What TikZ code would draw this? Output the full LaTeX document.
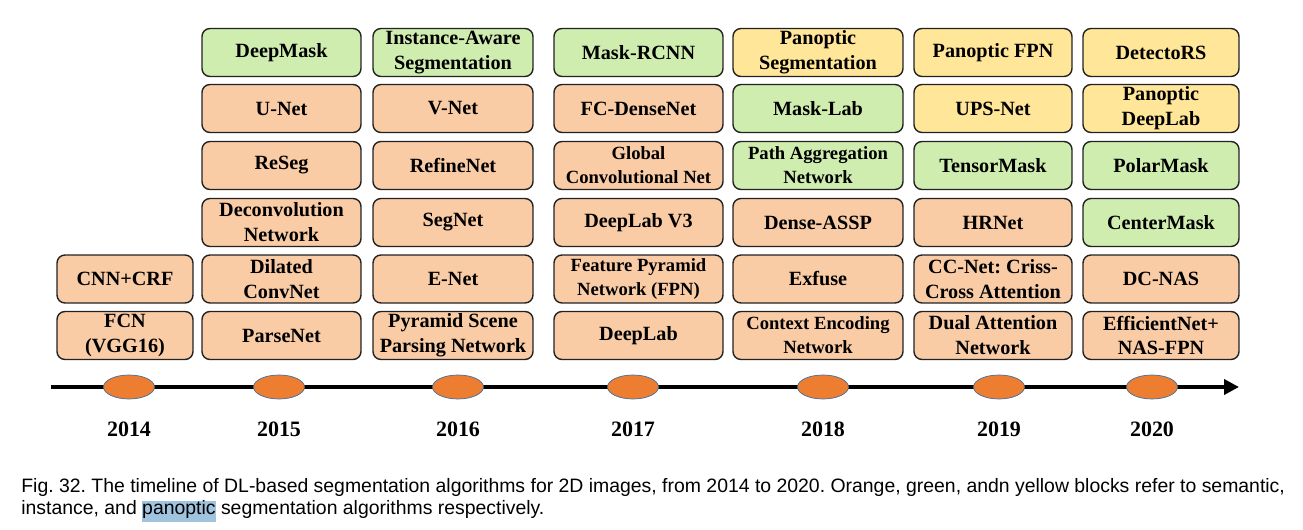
\documentclass[tikz,border=0pt]{standalone}
\usepackage{fontspec}
\setmainfont{Liberation Serif}
\newfontfamily\capfont{Liberation Sans}
\usepackage{xcolor}
\usepackage{tikz}
\usetikzlibrary{arrows.meta, positioning, shapes.geometric}
\definecolor{semFill}{RGB}{250, 204, 166}
\definecolor{instFill}{RGB}{208, 237, 176}
\definecolor{panoFill}{RGB}{255, 230, 153}
\definecolor{boxLine}{RGB}{34, 34, 34}
\definecolor{dotFill}{RGB}{237, 125, 49}
\definecolor{dotLine}{RGB}{65, 113, 156}
\definecolor{hlBlue}{RGB}{160, 196, 222}
\frenchspacing
\tikzset{
    algo_box/.style={
        draw=boxLine,
        line width=0.8pt,
        rounded corners=4.5pt,
        minimum height=0.96cm,
        inner sep=1pt,
        align=center,
        font=\bfseries\fontsize{11.5}{14.2}\selectfont
    },
    narrow_txt/.style={font=\bfseries\fontsize{10.6}{13.6}\selectfont},
    sem_box/.style={algo_box, fill=semFill},
    inst_box/.style={algo_box, fill=instFill},
    pano_box/.style={algo_box, fill=panoFill},
    timeline/.style={
        line width=2.8pt,
        -{Triangle[length=8.5pt, width=8.5pt]}
    },
    year_dot/.style={
        ellipse,
        draw=dotLine,
        line width=0.4pt,
        fill=dotFill,
        minimum width=1.02cm,
        minimum height=0.48cm,
        inner sep=0pt
    },
    year_label/.style={
        font=\bfseries\fontsize{12.5}{15}\selectfont
    },
    caption_line/.style={
        anchor=base west,
        inner sep=0pt,
        font=\capfont\fontsize{11.05}{12.5}\selectfont
    }
}
\newcommand{\hlword}[1]{{\setlength{\fboxsep}{0pt}\colorbox{hlBlue}{\rule[-4pt]{0pt}{10.8pt}#1}}}
\begin{document}
\begin{tikzpicture}[x=0.02cm, y=-0.02cm]
    \useasboundingbox (0,0) rectangle (1303,530);

    % 2014
    \begin{scope}[every node/.append style={minimum width=2.72cm}]
        \node[sem_box] (cnncrf) at (125,279) {CNN+CRF};
        \node[sem_box] (fcn) at (125,335.5) {FCN\\(VGG16)};
    \end{scope}

    % 2015
    \begin{scope}[every node/.append style={minimum width=3.18cm}]
        \node[inst_box] (deepmask) at (281.5,52.5) {DeepMask};
        \node[sem_box] (unet) at (281.5,108.5) {U-Net};
        \node[sem_box] (reseg) at (281.5,165.5) {ReSeg};
        \node[sem_box] (deconv) at (281.5,222.5) {Deconvolution\\Network};
        \node[sem_box] (dilated) at (281.5,279) {Dilated\\ConvNet};
        \node[sem_box] (parsenet) at (281.5,335.5) {ParseNet};
    \end{scope}

    % 2016
    \begin{scope}[every node/.append style={minimum width=3.2cm}]
        \node[inst_box] (instaware) at (453,52.5) {Instance-Aware\\Segmentation};
        \node[sem_box] (vnet) at (453,108.5) {V-Net};
        \node[sem_box] (refinenet) at (453,165.5) {RefineNet};
        \node[sem_box] (segnet) at (453,222.5) {SegNet};
        \node[sem_box] (enet) at (453,279) {E-Net};
        \node[sem_box] (pspnet) at (453,335.5) {Pyramid Scene\\Parsing Network};
    \end{scope}

    % 2017
    \begin{scope}[every node/.append style={minimum width=3.38cm}]
        \node[inst_box] (maskrcnn) at (638.5,52.5) {Mask-RCNN};
        \node[sem_box] (fcdense) at (638.5,108.5) {FC-DenseNet};
        \node[sem_box, narrow_txt] (gcn) at (638.5,165.5) {Global\\Convolutional Net};
        \node[sem_box] (deeplabv3) at (638.5,222.5) {DeepLab V3};
        \node[sem_box, narrow_txt] (fpn) at (638.5,279) {Feature Pyramid\\Network (FPN)};
        \node[sem_box] (deeplab) at (638.5,335.5) {DeepLab};
    \end{scope}

    % 2018
    \begin{scope}[every node/.append style={minimum width=3.4cm}]
        \node[pano_box] (panseg) at (818,52.5) {Panoptic\\Segmentation};
        \node[inst_box] (masklab) at (818,108.5) {Mask-Lab};
        \node[inst_box, narrow_txt] (panet) at (818,165.5) {Path Aggregation\\Network};
        \node[sem_box] (denseassp) at (818,222.5) {Dense-ASSP};
        \node[sem_box] (exfuse) at (818,279) {Exfuse};
        \node[sem_box, narrow_txt] (encnet) at (818,335.5) {Context Encoding\\Network};
    \end{scope}

    % 2019
    \begin{scope}[every node/.append style={minimum width=3.16cm}]
        \node[pano_box] (panfpn) at (993,52.5) {Panoptic FPN};
        \node[pano_box] (upsnet) at (993,108.5) {UPS-Net};
        \node[inst_box] (tensormask) at (993,165.5) {TensorMask};
        \node[sem_box] (hrnet) at (993,222.5) {HRNet};
        \node[sem_box] (ccnet) at (993,279) {CC-Net: Criss-\\Cross Attention};
        \node[sem_box] (danet) at (993,335.5) {Dual Attention\\Network};
    \end{scope}

    % 2020
    \begin{scope}[every node/.append style={minimum width=3.12cm}]
        \node[pano_box] (detectors) at (1161,52.5) {DetectoRS};
        \node[pano_box] (pandeeplab) at (1161,108.5) {Panoptic\\DeepLab};
        \node[inst_box] (polarmask) at (1161,165.5) {PolarMask};
        \node[inst_box] (centermask) at (1161,222.5) {CenterMask};
        \node[sem_box] (dcnas) at (1161,279) {DC-NAS};
        \node[sem_box] (effnas) at (1161,335.5) {EfficientNet+\\NAS-FPN};
    \end{scope}

    % time axis
    \coordinate (tl_start) at (51,387);
    \coordinate (tl_end) at (1239,387);
    \draw[timeline] (tl_start) -- (tl_end);
    \foreach \yr/\xx in {2014/129, 2015/279, 2016/458, 2017/633, 2018/823, 2019/999, 2020/1152} {
        \node[year_dot] (d\yr) at (\xx,387) {};
        \node[year_label] (l\yr) at (\xx,429.5) {\yr};
    }

    \node[caption_line] (cap1) at (21,493)
        {Fig. 32. The timeline of DL-based segmentation algorithms for 2D images, from 2014 to 2020. Orange, green, andn yellow blocks refer to semantic,};
    \node[caption_line] (cap2) at (21,515)
        {instance, and \hlword{panoptic} segmentation algorithms respectively.};
\end{tikzpicture}
\end{document}
